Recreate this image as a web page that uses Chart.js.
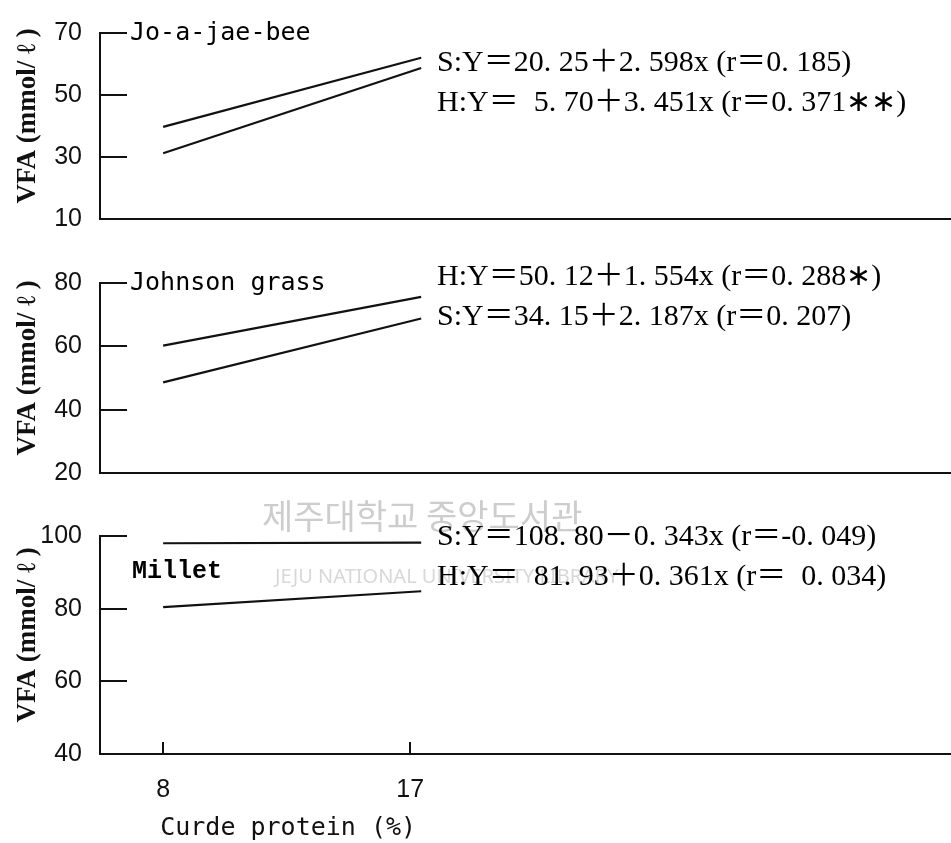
<!DOCTYPE html>
<html>
<head>
<meta charset="utf-8">
<title>VFA vs crude protein</title>
<script src="https://cdn.jsdelivr.net/npm/chart.js@4.4.1/dist/chart.umd.min.js"></script>
<style>
  html, body { margin: 0; padding: 0; background: #fff; }
  #wrap { position: relative; width: 951px; height: 843px; overflow: hidden; }
  canvas { position: absolute; left: 0; }
</style>
</head>
<body>
<div id="wrap">
  <canvas id="jojae" width="951" height="252" style="top:0px"></canvas>
  <canvas id="johnson" width="951" height="256" style="top:250px"></canvas>
  <canvas id="millet" width="951" height="353" style="top:490px"></canvas>
</div>
<script>
// Crude protein (%) at both ends of every regression line
const proteinEnds = [8, 17.4];

// VFA (mmol/l) at those two ends
const jojaeS = [39.7, 62.0];
const jojaeH = [31.2, 58.7];
const johnsonH = [60.2, 75.6];
const johnsonS = [48.6, 68.8];
const milletS = [98.0, 98.2];
const milletH = [80.4, 84.8];

// axis ticks
const jojaeTicks = [10, 30, 50, 70];
const johnsonTicks = [20, 40, 60, 80];
const milletTicks = [40, 60, 80, 100];
const proteinTicks = [8, 17];

// regression equations printed beside each panel
const jojaeEq = ['S:Y＝20. 25＋2. 598x (r＝0. 185)', 'H:Y＝  5. 70＋3. 451x (r＝0. 371∗∗)'];
const johnsonEq = ['H:Y＝50. 12＋1. 554x (r＝0. 288∗)', 'S:Y＝34. 15＋2. 187x (r＝0. 207)'];
const milletEq = ['S:Y＝108. 80－0. 343x (r＝-0. 049)', 'H:Y＝  81. 93＋0. 361x (r＝  0. 034)'];

const ink = '#111';
const tickFont = { family: "'Liberation Sans', Arial, sans-serif", size: 25 };
const eqFont = "30px 'Liberation Serif', 'Noto Sans CJK KR', serif";
const monoFont = "25px 'DejaVu Sans Mono', monospace";

const points = vals => vals.map((v, i) => ({ x: proteinEnds[i], y: v }));

// faint library stamp behind the lower panel
const stamp = {
  id: 'stamp',
  beforeDatasetsDraw(chart) {
    const ctx = chart.ctx;
    ctx.save();
    ctx.textBaseline = 'middle';
    ctx.fillStyle = '#cdcdcd';
    ctx.font = "34px 'Noto Sans CJK KR'";
    ctx.fillText('제주대학교 중앙도서관', 262, 26);
    ctx.fillStyle = '#d8d8d8';
    ctx.font = "20px 'Noto Sans'";
    ctx.fillText('JEJU NATIONAL UNIVERSITY LIBRARY', 275, 87);
    ctx.restore();
  }
};

function makePanel(id, p) {
  const panelText = {
    id: 'panelText',
    afterDraw(chart) {
      const { ctx, chartArea: a, scales } = chart;
      ctx.save();
      ctx.strokeStyle = ink;
      ctx.lineWidth = 2;
      // short ticks pointing into the plot
      scales.y.ticks.forEach(t => {
        const py = Math.round(scales.y.getPixelForValue(t.value));
        ctx.beginPath();
        ctx.moveTo(a.left, py);
        ctx.lineTo(a.left + 27, py);
        ctx.stroke();
      });
      if (p.last) {
        scales.x.ticks.forEach(t => {
          const px = Math.round(scales.x.getPixelForValue(t.value));
          ctx.beginPath();
          ctx.moveTo(px, a.bottom);
          ctx.lineTo(px, a.bottom - 12);
          ctx.stroke();
        });
      }
      ctx.fillStyle = '#000';
      ctx.textAlign = 'left';
      ctx.textBaseline = 'middle';
      ctx.font = p.nameFont;
      ctx.fillText(p.name, a.left + p.nameDx, a.top + p.nameDy);
      ctx.font = eqFont;
      p.eqs.forEach((s, i) => ctx.fillText(s, a.left + 337, a.top + p.eqDy[i]));
      ctx.restore();
    }
  };

  return new Chart(document.getElementById(id), {
    type: 'line',
    data: {
      datasets: p.series.map(s => ({
        data: points(s),
        borderColor: ink,
        borderWidth: 2.2,
        pointRadius: 0,
        tension: 0,
        fill: false
      }))
    },
    options: {
      responsive: false,
      animation: false,
      events: [],
      layout: { padding: { top: p.padTop, bottom: 0, left: 0, right: 0 }, autoPadding: false },
      plugins: { legend: { display: false }, tooltip: { enabled: false } },
      scales: {
        x: {
          type: 'linear',
          min: 5.7,
          max: 36.7,
          afterFit: s => { s.height = p.xHeight; },
          afterBuildTicks: s => { s.ticks = proteinTicks.map(v => ({ value: v })); },
          grid: { drawOnChartArea: false, drawTicks: false },
          border: { color: ink, width: 2 },
          ticks: { display: !!p.last, padding: 21, font: tickFont, color: ink, maxRotation: 0 },
          title: {
            display: !!p.last,
            text: '    Curde protein (%)',
            align: 'start',
            color: ink,
            padding: 0,
            font: { family: "'DejaVu Sans Mono', monospace", size: 25 }
          }
        },
        y: {
          type: 'linear',
          min: p.yTicks[0],
          max: p.yTicks[p.yTicks.length - 1],
          afterFit: s => { s.width = 100; },
          afterBuildTicks: s => { s.ticks = p.yTicks.map(v => ({ value: v })); },
          grid: { drawOnChartArea: false, drawTicks: false },
          border: { color: ink, width: 2 },
          ticks: { padding: 18, font: tickFont, color: ink },
          title: {
            display: true,
            text: '   VFA (mmol/ ℓ )',
            color: ink,
            padding: { top: 12, bottom: 0 },
            font: { family: "'Liberation Serif', serif", size: 27, weight: 'bold' }
          }
        }
      }
    },
    plugins: p.extra ? [p.extra, panelText] : [panelText]
  });
}

makePanel('jojae', {
  series: [jojaeS, jojaeH], yTicks: jojaeTicks, padTop: 22, xHeight: 10,
  name: 'Jo-a-jae-bee', nameFont: monoFont, nameDx: 30, nameDy: 0,
  eqs: jojaeEq, eqDy: [30, 70]
});

makePanel('johnson', {
  series: [johnsonH, johnsonS], yTicks: johnsonTicks, padTop: 28, xHeight: 10,
  name: 'Johnson grass', nameFont: monoFont, nameDx: 30, nameDy: 0,
  eqs: johnsonEq, eqDy: [-6, 34]
});

makePanel('millet', {
  series: [milletS, milletH], yTicks: milletTicks, padTop: 46, xHeight: 89, last: true,
  name: 'Millet', nameFont: "bold 25px 'Liberation Mono', monospace", nameDx: 32, nameDy: 36,
  eqs: milletEq, eqDy: [1, 41], extra: stamp
});
</script>
</body>
</html>
